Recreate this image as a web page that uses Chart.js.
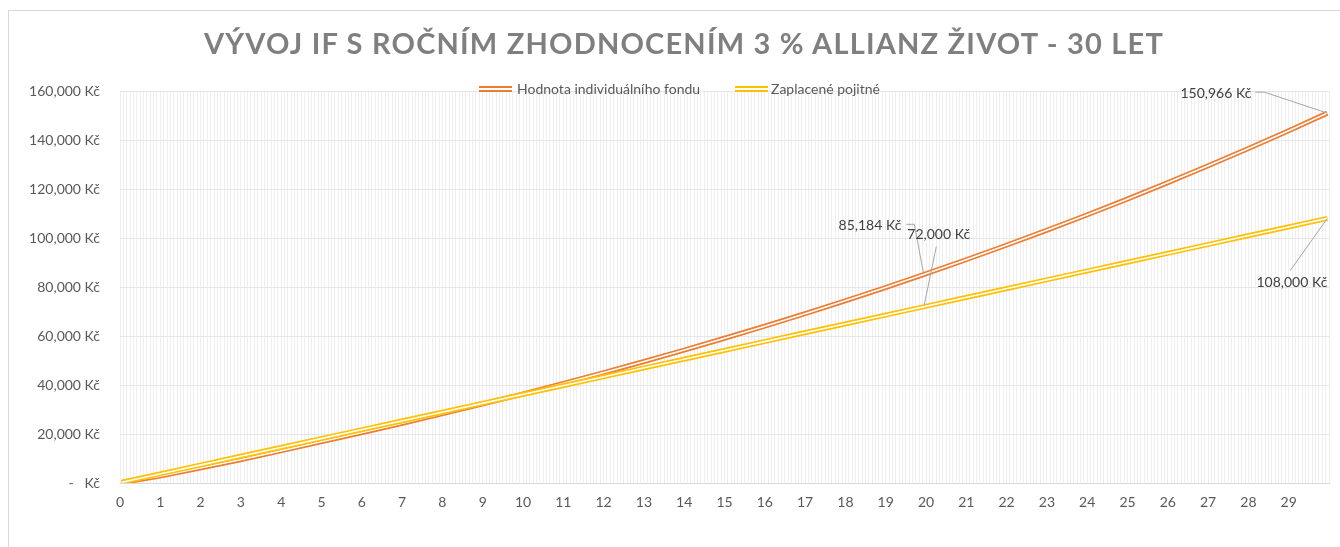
<!DOCTYPE html>
<html>
<head>
<meta charset="utf-8">
<script src="https://cdn.jsdelivr.net/npm/chart.js@4.4.1/dist/chart.umd.min.js"></script>
<style>
  html, body { margin: 0; padding: 0; background: #fff; }
  #wrap { position: relative; width: 1340px; height: 547px; overflow: hidden; font-family: Lato, "Open Sans", sans-serif; }
  #frame { position: absolute; left: 8px; top: 10px; width: 1400px; height: 600px; border: 1px solid #d9d9d9; box-sizing: border-box; }
  #title { position: absolute; left: 14px; width: 1340px; top: 25px; text-align: center; font-size: 29px; line-height: 36px; font-weight: 700; color: #7f7f7f; letter-spacing: 1.2px; }
  #legend { position: absolute; top: 80px; left: 0; width: 1340px; height: 18px; }
  .item { position: absolute; top: 0; height: 18px; line-height: 18px; font-size: 14px; color: #595959; }
  .sw { position: absolute; top: 6px; width: 33px; height: 1.5px; }
  .sw.b { top: 10px; }
  canvas { position: absolute; left: 0; top: 0; }
</style>
</head>
<body>
<div id="wrap">
  <div id="frame"></div>
  <canvas id="chartIF" width="1340" height="547"></canvas>
  <div id="title">VÝVOJ IF S ROČNÍM ZHODNOCENÍM 3 % ALLIANZ ŽIVOT - 30 LET</div>
  <div id="legend"></div>
</div>
<script>
  // měsíc (index kategorie) na konci každého roku + počáteční bod
  const months = [0, 11, 23, 35, 47, 59, 71, 83, 95, 107, 119, 131, 143, 155, 167, 179,
    191, 203, 215, 227, 239, 251, 263, 275, 287, 299, 311, 323, 335, 347, 359];

  const fundValues = [200, 2700, 6000, 9400, 13000, 16700, 20400, 24200, 28100, 32100, 36200,
    40470, 44870, 49400, 54060, 58870, 63810, 68910, 74160, 79570, 85184,
    90920, 96830, 102920, 109190, 115650, 122310, 129160, 136220, 143480, 150966];

  const paidValues = [300, 3600, 7200, 10800, 14400, 18000, 21600, 25200, 28800, 32400, 36000,
    39600, 43200, 46800, 50400, 54000, 57600, 61200, 64800, 68400, 72000,
    75600, 79200, 82800, 86400, 90000, 93600, 97200, 100800, 104400, 108000];

  const yearTicks = ["0", "1", "2", "3", "4", "5", "6", "7", "8", "9", "10", "11", "12", "13", "14",
    "15", "16", "17", "18", "19", "20", "21", "22", "23", "24", "25", "26", "27", "28", "29"];

  const seriesNames = ["Hodnota individuálního fondu", "Zaplacené pojitné"];
  const seriesColors = ["#ED7D31", "#FFC000"];

  // popisky dat: které body (index v polích výše) a kam posunout text
  const labelled = [
    { ds: 0, i: 20, dx: -23, dy: -49, align: "right", lead: [[-18, -50], [-10, -50], [-1, -2]] },
    { ds: 2, i: 20, dx: -17, dy: -72, align: "left", lead: [[12, -60], [0, -2]] },
    { ds: 0, i: 30, dx: -76, dy: -20, align: "right", lead: [[-72, -21], [-63, -21], [0, 0]] },
    { ds: 2, i: 30, dx: 0, dy: 64, align: "right", lead: [[-37, 52], [0, 0]] },
  ];

  const fmt = (v) => String(Math.round(v)).replace(/\B(?=(\d{3})+(?!\d))/g, ",") + " Kč";
  const pts = (arr) => arr.map((v, k) => ({ x: months[k], y: v }));

  // legenda
  const legend = document.getElementById("legend");
  [[479, 517], [735, 771]].forEach(([sx, tx], n) => {
    legend.insertAdjacentHTML("beforeend",
      `<div class="sw" style="left:${sx}px;background:${seriesColors[n]}"></div>` +
      `<div class="sw b" style="left:${sx}px;background:${seriesColors[n]}"></div>` +
      `<div class="item" style="left:${tx}px">${seriesNames[n]}</div>`);
  });

  const dataLabels = {
    id: "dataLabels",
    afterDatasetsDraw(chart) {
      const ctx = chart.ctx;
      ctx.save();
      ctx.font = "14px Lato";
      ctx.fillStyle = "#404040";
      ctx.strokeStyle = "#a6a6a6";
      ctx.lineWidth = 1;
      ctx.textBaseline = "middle";
      labelled.forEach((l) => {
        const el = chart.getDatasetMeta(l.ds).data[l.i];
        const px = el.x, py = el.y;
        ctx.beginPath();
        l.lead.forEach(([ox, oy], k) => {
          if (k === 0) ctx.moveTo(px + ox, py + oy); else ctx.lineTo(px + ox, py + oy);
        });
        ctx.stroke();
        ctx.textAlign = l.align;
        const raw = chart.data.datasets[l.ds].data[l.i].y;
        ctx.fillText(fmt(raw), px + l.dx, py + l.dy);
      });
      ctx.restore();
    },
  };

  const ctx = document.getElementById("chartIF").getContext("2d");
  new Chart(ctx, {
    type: "line",
    data: {
      datasets: [
        { label: seriesNames[0], data: pts(fundValues), borderColor: seriesColors[0], borderWidth: 5, order: 4 },
        { label: "", data: pts(fundValues), borderColor: "#ffffff", borderWidth: 1.6, order: 3 },
        { label: seriesNames[1], data: pts(paidValues), borderColor: seriesColors[1], borderWidth: 5, order: 2 },
        { label: "", data: pts(paidValues), borderColor: "#ffffff", borderWidth: 1.6, order: 1 },
      ],
    },
    options: {
      responsive: false,
      animation: false,
      events: [],
      elements: { point: { radius: 0 }, line: { tension: 0, borderCapStyle: "butt" } },
      layout: { padding: { top: 91, right: 7, bottom: 24, left: 0 } },
      plugins: { legend: { display: false }, title: { display: false }, tooltip: { enabled: false } },
      scales: {
        x: {
          type: "linear",
          min: -0.5,
          max: 359.5,
          afterBuildTicks(scale) {
            const t = [];
            for (let k = 0; k <= 360; k++) t.push({ value: k - 0.5 });
            scale.ticks = t;
          },
          afterFit(scale) { scale.height = 40; },
          grid: { color: "#efefef", drawTicks: false },
          border: { display: true, color: "#d9d9d9" },
          ticks: {
            autoSkip: false,
            maxRotation: 0,
            minRotation: 0,
            padding: 11,
            color: "#595959",
            font: { family: "Lato", size: 14 },
            callback(v) {
              const m = v + 0.5;
              return m % 12 === 0 && yearTicks[m / 12] !== undefined ? yearTicks[m / 12] : "";
            },
          },
        },
        y: {
          min: 0,
          max: 160000,
          afterFit(scale) { scale.width = 120; },
          grid: { color: "#e6e6e6", drawTicks: false },
          border: { display: false },
          ticks: {
            stepSize: 20000,
            padding: 20,
            color: "#595959",
            font: { family: "Lato", size: 14 },
            callback: (v) => (v === 0 ? "-\u00a0\u00a0\u00a0Kč" : fmt(v)),
          },
        },
      },
    },
    plugins: [dataLabels],
  });
</script>
</body>
</html>
